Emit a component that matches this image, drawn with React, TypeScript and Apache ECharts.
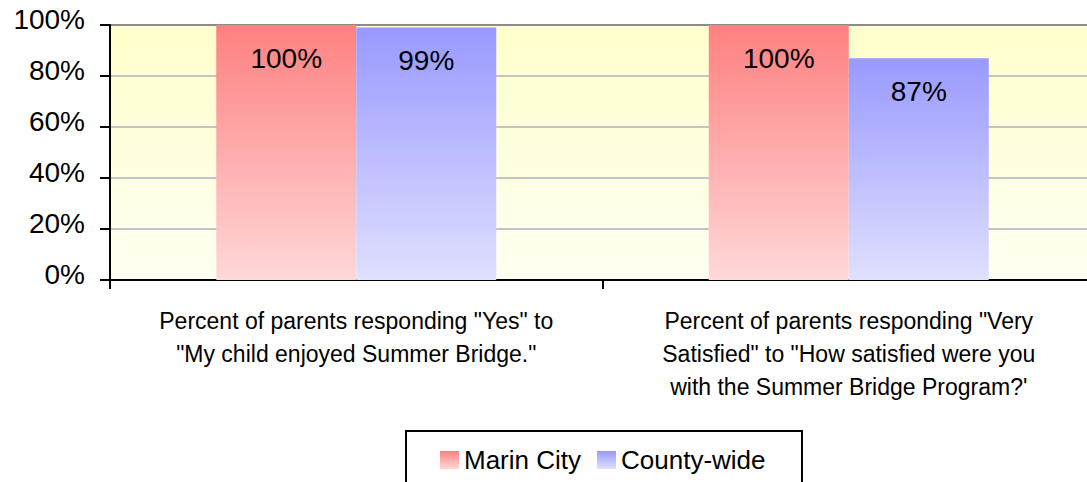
import React, { useEffect, useRef } from "react";
import * as echarts from "echarts";

const categories = [
  'Percent of parents responding "Yes" to\n"My child enjoyed Summer Bridge."',
  'Percent of parents responding "Very\nSatisfied" to "How satisfied were you\nwith the Summer Bridge Program?\'',
];
const seriesNames = ["Marin City", "County-wide"];
const marinCity = [100, 100];
const countyWide = [99, 87];
const yTicks = { min: 0, max: 100, interval: 20 };

const FONT = "'Liberation Sans', Arial, sans-serif";

export default function App() {
  const ref = useRef<HTMLDivElement>(null);
  useEffect(() => {
    if (!ref.current) return;
    const chart = echarts.init(ref.current, null, { renderer: "svg" });
    const grad = (top: string, bottom: string) =>
      new echarts.graphic.LinearGradient(0, 0, 0, 1, [
        { offset: 0, color: top },
        { offset: 1, color: bottom },
      ]);
    const labelCfg = {
      show: true,
      position: "insideTop",
      distance: 19,
      formatter: "{c}%",
      fontSize: 28,
      fontFamily: FONT,
      color: "#000",
    };
    chart.setOption({
      animation: false,
      textStyle: { fontFamily: FONT },
      grid: {
        left: 110,
        top: 25,
        right: -8,
        height: 255,
        outerBoundsMode: "none",
        containLabel: false,
        show: true,
        backgroundColor: grad("#ffffcc", "#fffff2"),
        borderWidth: 0,
      },
      xAxis: {
        type: "category",
        data: categories,
        axisLine: { lineStyle: { color: "#000", width: 2 } },
        axisTick: { show: true, length: 9, lineStyle: { color: "#000", width: 2 } },
        axisLabel: {
          fontSize: 23,
          lineHeight: 33,
          color: "#000",
          fontFamily: FONT,
          margin: 24,
          interval: 0,
        },
        splitLine: { show: false },
      },
      yAxis: {
        type: "value",
        min: yTicks.min,
        max: yTicks.max,
        interval: yTicks.interval,
        axisLine: { show: true, lineStyle: { color: "#000", width: 2 } },
        axisTick: { show: true, length: 10, lineStyle: { color: "#000", width: 2 } },
        axisLabel: {
          formatter: "{a|{value}%}",
          color: "#000",
          fontFamily: FONT,
          margin: 25,
          rich: {
            a: {
              fontSize: 28,
              color: "#000",
              fontFamily: FONT,
              padding: [0, 0, 11, 0],
            },
          },
        },
        splitLine: {
          show: true,
          lineStyle: {
            color: ["#c4c4c4", "#c4c4c4", "#c4c4c4", "#c4c4c4", "#c4c4c4", "#8c8c8c"],
            width: 2,
          },
        },
      },
      legend: {
        data: seriesNames,
        left: 440,
        top: 447,
        padding: 0,
        itemWidth: 19,
        itemHeight: 18,
        itemGap: 16,
        icon: "rect",
        textStyle: { fontSize: 26, color: "#000", fontFamily: FONT },
      },
      graphic: [
        {
          type: "rect",
          shape: { x: 406, y: 431, width: 396, height: 60 },
          style: { fill: "none", stroke: "#000", lineWidth: 2 },
          silent: true,
        },
      ],
      series: [
        {
          name: seriesNames[0],
          type: "bar",
          data: marinCity,
          barWidth: 140,
          barGap: "0%",
          itemStyle: { color: grad("#ff8080", "#ffd8d8") },
          label: labelCfg,
        },
        {
          name: seriesNames[1],
          type: "bar",
          data: countyWide,
          barWidth: 140,
          barGap: "0%",
          itemStyle: { color: grad("#9999ff", "#e0e0ff") },
          label: labelCfg,
        },
      ],
    });
    return () => chart.dispose();
  }, []);
  return (
    <div
      ref={ref}
      style={{ position: "absolute", left: 0, top: 0, width: 1087, height: 482 }}
    />
  );
}
